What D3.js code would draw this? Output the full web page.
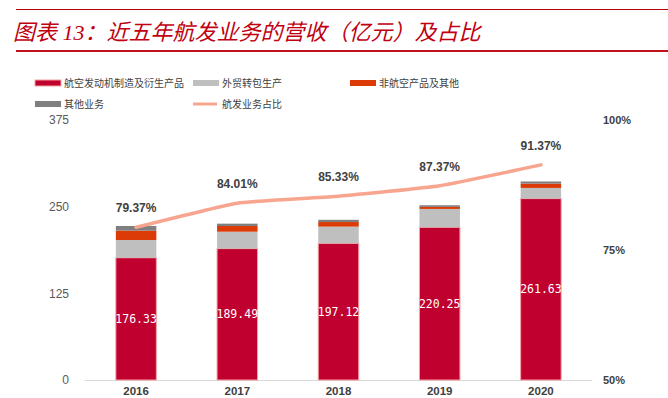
<!DOCTYPE html>
<html>
<head>
<meta charset="utf-8">
<title>近五年航发业务的营收</title>
<style>
  body { margin: 0; background: #fff; }
  svg { display: block; }
</style>
</head>
<body>
<div id="chart"></div>
<script src="https://cdnjs.cloudflare.com/ajax/libs/d3/7.8.5/d3.min.js"></script>
<script>

// data (亿元)
var years      = ["2016", "2017", "2018", "2019", "2020"];
var aeroEngine = [176.33, 189.49, 197.12, 220.25, 261.63];   // 航空发动机制造及衍生产品
var subcontract= [25.6, 24.4, 24.1, 26.5, 15.4];             // 外贸转包生产
var nonAero    = [13.5, 8.2, 6.6, 2.9, 6.2];                 // 非航空产品及其他
var others     = [6.7, 3.4, 3.2, 2.4, 3.1];                  // 其他业务
var aeroShare  = [79.37, 84.01, 85.33, 87.37, 91.37];        // 航发业务占比 (%)
var leftTicks  = [0, 125, 250, 375];
var rightTicks = [50, 75, 100];

var seriesNames = ["航空发动机制造及衍生产品", "外贸转包生产", "非航空产品及其他", "其他业务"];
var seriesColors = ["#c0002f", "#bfbfbf", "#dc3a06", "#7f7f7f"];
var lineColor = "#f7a58f";

var W = 668, H = 398;
var svg = d3.select("#chart").append("svg")
    .attr("width", W)
    .attr("height", H);

// title + rules
svg.append("line").attr("x1", 16).attr("x2", W).attr("y1", 9.5).attr("y2", 9.5)
    .attr("stroke", "#b4000a").attr("stroke-width", 1);
svg.append("line").attr("x1", 16).attr("x2", W).attr("y1", 51).attr("y2", 51)
    .attr("stroke", "#c0101a").attr("stroke-width", 2);
svg.append("text")
    .attr("x", 13).attr("y", 40)
    .attr("fill", "#c00010")
    .style("font-family", "'Liberation Serif', 'Noto Sans CJK SC', serif")
    .style("font-style", "italic")
    .style("font-size", "22px")
    .text("图表 13：近五年航发业务的营收（亿元）及占比");

// build stacked table
var table = years.map(function(y, i){
    return { year: y, s0: aeroEngine[i], s1: subcontract[i], s2: nonAero[i], s3: others[i] };
});
var stack = d3.stack().keys(["s0", "s1", "s2", "s3"])(table);

var x = d3.scaleBand().domain(years).range([85.5, 591.5]).paddingInner(0.6).paddingOuter(0.3);
var yL = d3.scaleLinear().domain([0, 375]).range([380, 120]);
var yR = d3.scaleLinear().domain([50, 100]).range([380, 120]);

// left axis labels
svg.append("g").selectAll("text")
    .data(leftTicks).enter().append("text")
    .attr("x", 69).attr("y", function(d){ return yL(d); })
    .attr("dy", "0.35em")
    .attr("text-anchor", "end")
    .attr("fill", "#595959")
    .style("font-family", "'Liberation Sans', Arial, sans-serif")
    .style("font-size", "12px")
    .text(function(d){ return d; });

// right axis labels
svg.append("g").selectAll("text")
    .data(rightTicks).enter().append("text")
    .attr("x", 603).attr("y", function(d){ return yR(d); })
    .attr("dy", "0.35em")
    .attr("fill", "#404040")
    .style("font-family", "'Liberation Sans', Arial, sans-serif")
    .style("font-size", "11px")
    .style("font-weight", "bold")
    .text(function(d){ return d + "%"; });

// baseline
svg.append("line")
    .attr("x1", 85).attr("x2", 592)
    .attr("y1", yL(0) + 0.5).attr("y2", yL(0) + 0.5)
    .attr("stroke", "#d9d9d9");

// bars
svg.append("g").selectAll("g")
    .data(stack).enter().append("g")
    .attr("fill", function(d, i){ return seriesColors[i]; })
    .selectAll("rect")
    .data(function(d){ return d.map(function(p){ p.key = d.key; return p; }); })
    .enter().append("rect")
    .attr("x", function(d){ return x(d.data.year); })
    .attr("width", x.bandwidth())
    .attr("y", function(d){ return yL(d[1]); })
    .attr("height", function(d){ return yL(d[0]) - yL(d[1]); })
    .attr("stroke", function(d){ return d.key === "s0" ? "#f6a0a0" : "none"; })
    .attr("stroke-width", 1);

// white value labels inside red segment
svg.append("g").selectAll("text")
    .data(table).enter().append("text")
    .attr("x", function(d){ return x(d.year) + x.bandwidth() / 2; })
    .attr("y", function(d){ return yL(d.s0 / 2); })
    .attr("dy", "0.35em")
    .attr("text-anchor", "middle")
    .attr("fill", "#fff")
    .style("font-family", "'DejaVu Sans Mono', monospace")
    .style("font-size", "11.5px")
    .text(function(d){ return d.s0.toFixed(2); });

// share line (Excel-style light smoothing)
var line = d3.line()
    .x(function(d, i){ return x(years[i]) + x.bandwidth() / 2; })
    .y(function(d){ return yR(d); })
    .curve(d3.curveCardinal.tension(0.6));
svg.append("path")
    .datum(aeroShare)
    .attr("d", line)
    .attr("fill", "none")
    .attr("stroke", lineColor)
    .attr("stroke-width", 3.5)
    .attr("stroke-linecap", "round");

// share labels
svg.append("g").selectAll("text")
    .data(aeroShare).enter().append("text")
    .attr("x", function(d, i){ return x(years[i]) + x.bandwidth() / 2; })
    .attr("y", function(d){ return yR(d) - 15; })
    .attr("text-anchor", "middle")
    .attr("fill", "#404040")
    .style("font-family", "'Liberation Sans', Arial, sans-serif")
    .style("font-size", "12px")
    .style("font-weight", "bold")
    .text(function(d){ return d.toFixed(2) + "%"; });

// x labels
svg.append("g").selectAll("text")
    .data(years).enter().append("text")
    .attr("x", function(d){ return x(d) + x.bandwidth() / 2; })
    .attr("y", 395)
    .attr("text-anchor", "middle")
    .attr("fill", "#404040")
    .style("font-family", "'Liberation Sans', Arial, sans-serif")
    .style("font-size", "11.5px")
    .style("font-weight", "bold")
    .text(function(d){ return d; });

// legend
var legendItems = [
    { name: seriesNames[0], color: seriesColors[0], type: "bar", x: 35,  y: 83 },
    { name: seriesNames[1], color: seriesColors[1], type: "bar", x: 193, y: 83 },
    { name: seriesNames[2], color: seriesColors[2], type: "bar", x: 350, y: 83 },
    { name: seriesNames[3], color: seriesColors[3], type: "bar", x: 35,  y: 104 },
    { name: "航发业务占比", color: lineColor, type: "line", x: 193, y: 104 }
];
var lg = svg.append("g").selectAll("g")
    .data(legendItems).enter().append("g")
    .attr("transform", function(d){ return "translate(" + d.x + "," + d.y + ")"; });
lg.append("rect")
    .attr("x", 0)
    .attr("y", function(d){ return d.type === "bar" ? -3 : -1.5; })
    .attr("width", function(d){ return d.type === "bar" ? 26 : 24; })
    .attr("height", function(d){ return d.type === "bar" ? 6 : 3; })
    .attr("fill", function(d){ return d.color; })
    .attr("stroke", function(d, i){ return i === 0 ? "#f6a0a0" : "none"; });
lg.append("text")
    .attr("x", 29).attr("dy", "0.35em")
    .attr("fill", "#404040")
    .style("font-family", "'Noto Sans CJK SC', sans-serif")
    .style("font-size", "10px")
    .text(function(d){ return d.name; });

</script>
</body>
</html>
